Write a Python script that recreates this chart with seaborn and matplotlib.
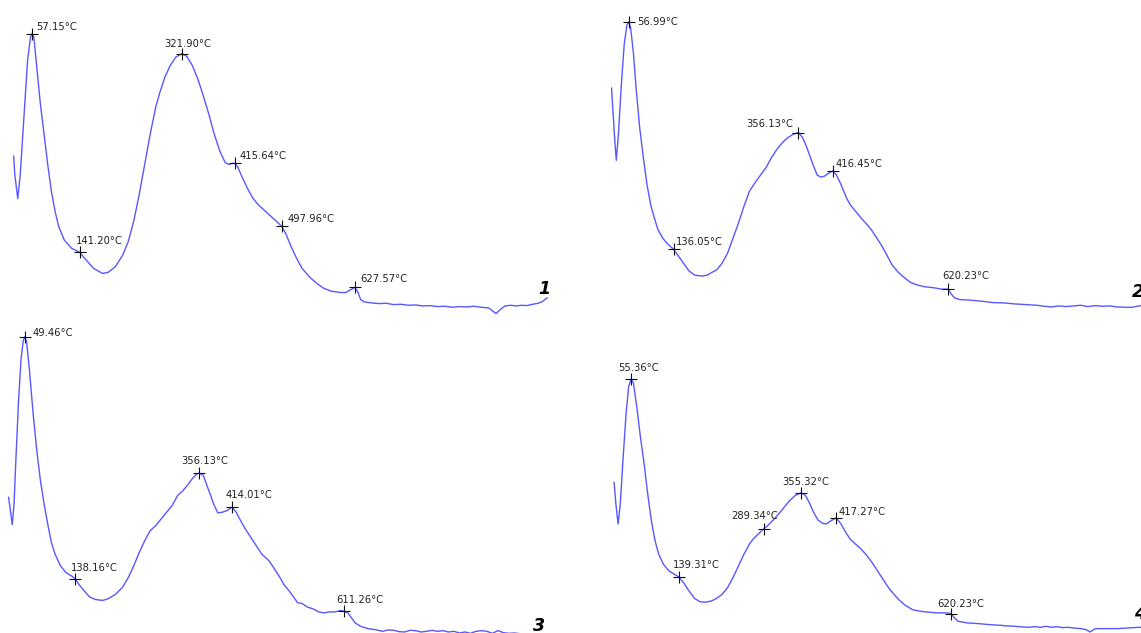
import matplotlib
matplotlib.use("Agg")
import matplotlib.pyplot as plt
import seaborn as sns
import pandas as pd

# ---------------------------------------------------------------- data
# DTG traces of four samples: temperature (°C) and relative signal (a.u.)
temp_1 = [24.9, 26.8, 32.0, 36.5, 42.9, 49.4, 54.6, 57.15, 60.4, 65.6, 72.0, 78.5, 84.9, 91.4,
          97.9, 104.3, 114.0, 126.9, 141.20, 152.8, 165.7, 181.8, 191.5, 204.4, 217.4, 227.1,
          236.7, 246.4, 256.1, 265.8, 275.5, 282.0, 291.7, 301.3, 311.0, 321.90, 330.4, 340.1,
          349.8, 359.5, 369.2, 378.9, 388.6, 398.2, 404.7, 411.2, 415.64, 420.9, 427.3, 437.0,
          446.7, 456.4, 469.3, 482.2, 491.9, 497.96, 504.8, 514.5, 524.2, 533.9, 546.8, 559.7,
          572.7, 585.6, 601.7, 611.4, 617.9, 627.57, 632.1, 637.3, 643.7, 656.6, 669.6, 682.5,
          695.4, 708.3, 721.2, 734.2, 747.1, 760.0, 772.9, 785.8, 798.8, 811.7, 824.6, 837.5,
          850.4, 863.4, 876.3, 884.0, 892.4, 902.1, 911.8, 921.5, 931.2, 940.9, 950.6, 957.0, 966.7]
dtg_1 = [4.80, 4.25, 3.53, 4.25, 5.95, 7.65, 8.35, 8.45, 8.35, 7.45, 6.35, 5.45, 4.55, 3.75,
         3.15, 2.70, 2.30, 2.05, 1.93, 1.70, 1.45, 1.30, 1.33, 1.50, 1.85, 2.25,
         2.85, 3.65, 4.55, 5.45, 6.25, 6.65, 7.15, 7.50, 7.75, 7.85, 7.77, 7.50,
         7.10, 6.60, 6.05, 5.45, 4.95, 4.60, 4.55, 4.58, 4.58, 4.45, 4.20, 3.85,
         3.55, 3.35, 3.15, 2.95, 2.80, 2.70, 2.50, 2.10, 1.75, 1.45, 1.20, 1.00,
         0.85, 0.77, 0.73, 0.73, 0.80, 0.88, 0.75, 0.52, 0.45, 0.42, 0.40, 0.41,
         0.37, 0.38, 0.35, 0.36, 0.33, 0.34, 0.31, 0.32, 0.29, 0.31, 0.30, 0.32,
         0.29, 0.27, 0.10, 0.23, 0.33, 0.35, 0.33, 0.35, 0.34, 0.38, 0.41, 0.45, 0.57]

temp_2 = [26.7, 29.2, 32.5, 35.1, 38.9, 44.1, 49.2, 53.8, 56.99, 60.2, 65.4, 69.9, 76.3, 82.8,
          89.2, 95.7, 102.2, 108.6, 117.0, 126.0, 136.05, 144.1, 153.8, 163.4, 173.1, 186.0,
          195.7, 203.5, 211.8, 221.5, 231.2, 240.9, 250.5, 260.2, 269.9, 279.6, 289.3, 298.9,
          308.6, 318.3, 328.0, 337.7, 347.3, 356.13, 363.5, 369.9, 376.4, 382.8, 389.3, 395.7,
          402.2, 408.6, 416.45, 422.8, 431.2, 440.9, 447.3, 457.0, 466.7, 476.4, 484.8, 492.5,
          502.2, 511.9, 521.5, 531.2, 540.9, 553.8, 566.7, 579.6, 595.7, 608.6, 620.23, 624.8,
          631.2, 640.9, 660.3, 679.6, 699.0, 718.3, 737.7, 757.0, 776.4, 789.3, 802.2, 815.1,
          828.0, 840.9, 853.8, 866.7, 879.6, 892.5, 905.4, 918.3, 931.2, 944.1, 957.0, 962.2]
dtg_2 = [6.83, 6.15, 5.25, 4.67, 5.45, 6.95, 8.15, 8.70, 8.80, 8.65, 7.85, 6.85, 5.65, 4.75,
         3.95, 3.35, 2.95, 2.60, 2.35, 2.17, 2.02, 1.83, 1.60, 1.37, 1.25, 1.22,
         1.25, 1.33, 1.40, 1.60, 1.90, 2.35, 2.80, 3.30, 3.75, 4.00, 4.23, 4.45,
         4.75, 5.00, 5.20, 5.35, 5.45, 5.50, 5.35, 5.10, 4.80, 4.50, 4.23, 4.17,
         4.20, 4.28, 4.35, 4.25, 3.95, 3.55, 3.35, 3.15, 2.95, 2.77, 2.60, 2.40,
         2.15, 1.85, 1.55, 1.35, 1.20, 1.03, 0.95, 0.90, 0.87, 0.83, 0.83, 0.70,
         0.57, 0.52, 0.50, 0.47, 0.43, 0.42, 0.39, 0.37, 0.35, 0.32, 0.30, 0.33,
         0.31, 0.33, 0.35, 0.31, 0.34, 0.32, 0.33, 0.30, 0.29, 0.29, 0.33, 0.35]

temp_3 = [21.1, 24.4, 27.6, 30.8, 34.0, 38.5, 43.0, 46.9, 49.46, 52.7, 57.8, 64.3, 70.7, 77.1,
          83.6, 90.0, 96.4, 102.9, 112.5, 122.2, 131.8, 138.16, 144.7, 154.4, 164.0, 173.7,
          186.5, 196.2, 209.1, 221.9, 231.6, 241.2, 250.9, 260.5, 270.2, 279.8, 289.5, 299.1,
          308.8, 318.4, 328.1, 337.8, 344.2, 350.6, 356.13, 363.5, 369.9, 376.4, 382.8, 389.2,
          397.0, 405.3, 414.01, 421.4, 429.1, 437.5, 447.1, 456.8, 466.5, 479.3, 489.0, 498.6,
          505.1, 514.7, 521.2, 529.5, 537.2, 546.9, 556.5, 566.2, 575.8, 585.5, 595.2, 604.8,
          611.26, 617.7, 624.1, 630.5, 640.2, 653.1, 665.9, 678.8, 688.5, 698.1, 707.8, 717.4,
          727.1, 736.7, 746.4, 756.0, 765.7, 775.3, 785.0, 794.6, 804.3, 813.9, 823.6, 833.3,
          842.9, 852.6, 862.2, 871.9, 881.5, 891.2, 900.8, 910.5, 920.1, 929.8]
dtg_3 = [4.05, 3.65, 3.23, 3.85, 5.15, 6.85, 8.15, 8.70, 8.83, 8.70, 7.85, 6.55, 5.45, 4.55,
         3.85, 3.25, 2.70, 2.35, 2.00, 1.80, 1.70, 1.62, 1.45, 1.25, 1.07, 1.00,
         0.97, 1.02, 1.15, 1.37, 1.65, 2.00, 2.40, 2.75, 3.05, 3.20, 3.40, 3.60,
         3.80, 4.10, 4.25, 4.45, 4.60, 4.72, 4.77, 4.70, 4.40, 4.10, 3.80, 3.58,
         3.60, 3.65, 3.75, 3.60, 3.35, 3.10, 2.85, 2.60, 2.35, 2.15, 1.90, 1.65,
         1.45, 1.25, 1.10, 0.90, 0.88, 0.77, 0.72, 0.63, 0.60, 0.63, 0.63, 0.67,
         0.65, 0.60, 0.45, 0.30, 0.20, 0.13, 0.10, 0.05, 0.09, 0.08, 0.04, 0.03,
         0.08, 0.07, 0.03, 0.05, 0.08, 0.05, 0.07, 0.03, 0.05, 0.00, 0.03, -0.01,
         0.05, 0.07, 0.05, -0.01, 0.07, 0.01, -0.01, 0.00, -0.02, -0.03]

temp_4 = [25.0, 28.2, 32.1, 36.0, 41.1, 46.3, 50.8, 55.36, 59.2, 65.1, 71.5, 78.0, 84.4, 90.9,
          97.4, 103.8, 112.2, 121.9, 131.6, 139.31, 147.8, 157.5, 167.2, 176.9, 186.6, 196.3,
          206.0, 215.6, 225.3, 235.0, 244.7, 254.4, 264.1, 270.6, 286.7, 296.4, 306.1, 315.8,
          325.5, 335.2, 344.9, 355.32, 363.0, 370.8, 377.2, 385.0, 393.4, 399.8, 406.3, 417.27,
          425.7, 434.1, 441.9, 451.5, 461.2, 470.9, 480.6, 490.3, 500.0, 509.7, 519.4, 529.1,
          538.8, 551.7, 564.6, 580.8, 597.0, 609.9, 620.23, 626.1, 632.5, 648.7, 668.1, 687.5,
          706.8, 719.8, 732.7, 745.6, 758.5, 768.2, 777.9, 787.6, 797.3, 807.0, 816.7, 826.4,
          836.1, 849.0, 858.7, 865.2, 874.9, 894.3, 913.7, 933.0, 952.4, 957.6]
dtg_4 = [4.50, 3.85, 3.25, 3.85, 5.25, 6.55, 7.35, 7.58, 7.45, 6.75, 5.85, 5.05, 4.15, 3.35,
         2.75, 2.35, 2.05, 1.85, 1.75, 1.67, 1.50, 1.25, 1.03, 0.93, 0.92, 0.95,
         1.03, 1.15, 1.35, 1.65, 2.00, 2.35, 2.65, 2.80, 3.07, 3.20, 3.37, 3.55,
         3.75, 3.95, 4.10, 4.18, 4.10, 3.85, 3.60, 3.37, 3.27, 3.25, 3.33, 3.43,
         3.25, 3.00, 2.80, 2.65, 2.50, 2.32, 2.10, 1.85, 1.60, 1.35, 1.15, 0.97,
         0.83, 0.70, 0.65, 0.62, 0.60, 0.60, 0.58, 0.45, 0.35, 0.30, 0.28, 0.25,
         0.23, 0.21, 0.20, 0.18, 0.17, 0.19, 0.17, 0.20, 0.17, 0.19, 0.16, 0.17,
         0.15, 0.13, 0.10, 0.03, 0.13, 0.13, 0.13, 0.15, 0.17, 0.17]

# labelled peak / shoulder temperatures and the signal at those points
peak_temp_1 = [57.15, 141.20, 321.90, 415.64, 497.96, 627.57]
peak_dtg_1 = [8.45, 1.93, 7.85, 4.58, 2.70, 0.88]
peak_temp_2 = [56.99, 136.05, 356.13, 416.45, 620.23]
peak_dtg_2 = [8.80, 2.02, 5.50, 4.35, 0.83]
peak_temp_3 = [49.46, 138.16, 356.13, 414.01, 611.26]
peak_dtg_3 = [8.83, 1.62, 4.77, 3.75, 0.65]
peak_temp_4 = [55.36, 139.31, 289.34, 355.32, 417.27, 620.23]
peak_dtg_4 = [7.58, 1.67, 3.10, 4.18, 3.43, 0.58]

panel_names = ["1", "2", "3", "4"]

# ---------------------------------------------------------------- layout / style
W, H, DPI = 1141, 633, 100
PX = 72.0 / DPI  # one pixel in points

LINE_COLOR = "#5858ff"
TEXT_COLOR = "#222222"

# axes boxes in pixels: left, top, width, height
boxes = [(0, 0, 570, 316), (570, 0, 571, 316), (0, 316, 570, 317), (570, 316, 571, 317)]
xlims = [(0.7, 1006.8), (-46.5, 960.1), (6.1, 1008.3), (-52.8, 955.5)]
ylims = [(0.03, 9.45), (0.03, 9.45), (0.0, 9.45), (0.0, 9.45)]

# label offsets (pixels: right, up) from each marker to the text's left/middle
label_offsets = [
    [(4, 7), (-4, 11), (-18, 10), (4, 7), (6, 7), (5, 8)],
    [(8, 0), (2, 7), (-52, 9), (3, 7), (-6, 13)],
    [(8, 4), (-4, 11), (-18, 12), (-6, 12), (-8, 11)],
    [(-13, 11), (-6, 12), (-33, 13), (-19, 11), (2, 6), (-14, 10)],
]
# panel-number anchor (axes fraction, left / middle)
name_pos = [(0.944, 0.087), (0.984, 0.076), (0.935, 0.022), (0.988, 0.060)]

sns.set_style("white")
plt.rcParams["font.family"] = ["DejaVu Sans"]

fig = plt.figure(figsize=(W / DPI, H / DPI), dpi=DPI)

curves = [(temp_1, dtg_1), (temp_2, dtg_2), (temp_3, dtg_3), (temp_4, dtg_4)]
peaks = [(peak_temp_1, peak_dtg_1), (peak_temp_2, peak_dtg_2),
         (peak_temp_3, peak_dtg_3), (peak_temp_4, peak_dtg_4)]

for i in range(4):
    left, top, w, h = boxes[i]
    ax = fig.add_axes([left / W, 1 - (top + h) / H, w / W, h / H])
    ax.set_facecolor("none")

    t, d = curves[i]
    df = pd.DataFrame({"T": t, "DTG": d})
    sns.lineplot(data=df, x="T", y="DTG", ax=ax, sort=False, estimator=None,
                 color=LINE_COLOR, linewidth=1.0)
    for ln in ax.lines:
        ln.set_clip_on(False)

    pt, pd_ = peaks[i]
    pk = pd.DataFrame({"T": pt, "DTG": pd_})
    sns.scatterplot(data=pk, x="T", y="DTG", ax=ax, marker="+", color="#111111",
                    s=70, linewidth=0.8, zorder=5, clip_on=False)

    for (tx, ty), (dx, dy) in zip(zip(pt, pd_), label_offsets[i]):
        ax.annotate(f"{tx:.2f}°C", xy=(tx, ty), xytext=(dx * PX, dy * PX),
                    textcoords="offset points", ha="left", va="center",
                    fontsize=7.2, color=TEXT_COLOR, annotation_clip=False)

    nx, ny = name_pos[i]
    ax.text(nx, ny, panel_names[i], transform=ax.transAxes, ha="left", va="center",
            fontsize=12.5, fontweight="bold", fontstyle="italic", color="black")

    ax.set_xlim(*xlims[i])
    ax.set_ylim(*ylims[i])
    ax.set_axis_off()

fig.savefig("out.png", dpi=DPI, facecolor="white")
